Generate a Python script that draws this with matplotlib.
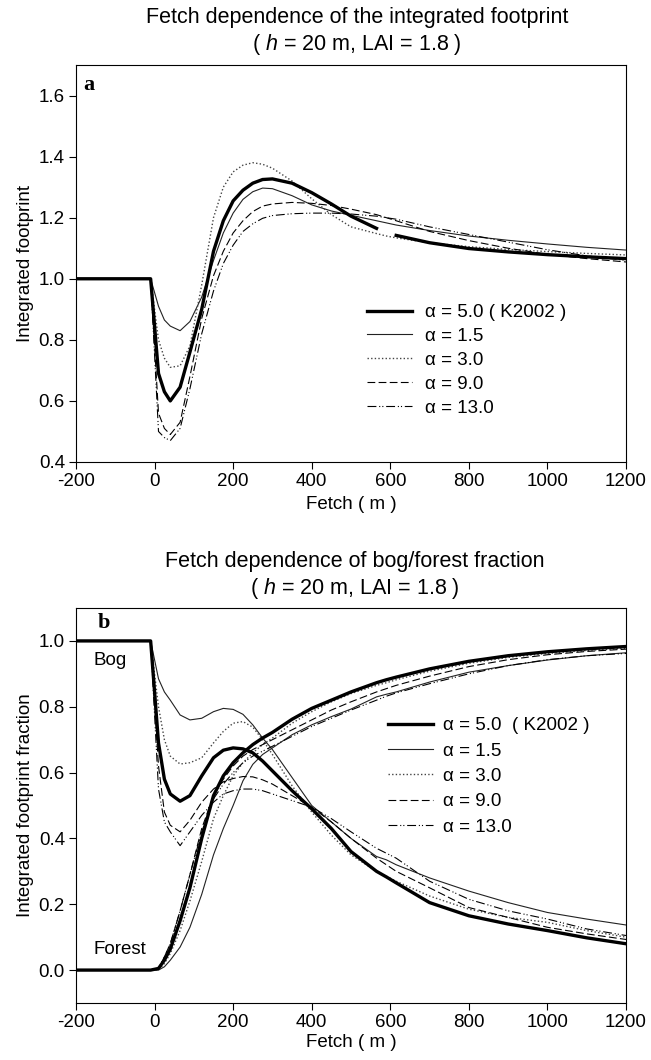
import numpy as np
import matplotlib
matplotlib.use("Agg")
import matplotlib.pyplot as plt

plt.rcParams['font.family'] = ['Liberation Sans', 'DejaVu Sans']
plt.rcParams['mathtext.fontset'] = 'custom'
plt.rcParams['mathtext.it'] = 'Liberation Sans:italic'
plt.rcParams['mathtext.rm'] = 'Liberation Sans'
plt.rcParams['axes.unicode_minus'] = False

nan = np.nan

# fetch grid (m)
fetch = [-200, -10, 10, 25, 40, 65, 90, 120, 150, 175, 200, 225, 250, 275, 300,
         350, 400, 450, 500, 565, 590, 615, 700, 800, 900, 1000, 1100, 1200]

# panel a: integrated footprint
fp_a50 = [1.0, 1.0, 0.69, 0.63, 0.60, 0.645, 0.76, 0.90, 1.09, 1.19, 1.255, 1.29, 1.313, 1.325, 1.327,
          1.313, 1.282, 1.245, 1.205, 1.165, nan, 1.142, 1.118, 1.099, 1.088, 1.079, 1.072, 1.066]
fp_a15 = [1.0, 1.0, 0.91, 0.865, 0.845, 0.83, 0.86, 0.94, 1.06, 1.15, 1.215, 1.26, 1.285, 1.297, 1.295,
          1.272, 1.242, 1.222, 1.208, 1.19, 1.183, 1.176, 1.158, 1.14, 1.126, 1.114, 1.103, 1.094]
fp_a30 = [1.0, 1.0, 0.80, 0.74, 0.71, 0.715, 0.78, 0.98, 1.20, 1.30, 1.35, 1.372, 1.38, 1.375, 1.362,
          1.32, 1.262, 1.21, 1.17, 1.148, 1.14, 1.134, 1.118, 1.105, 1.096, 1.089, 1.083, 1.078]
fp_a90 = [1.0, 1.0, 0.56, 0.51, 0.49, 0.53, 0.68, 0.87, 1.01, 1.09, 1.15, 1.19, 1.22, 1.238, 1.245,
          1.25, 1.247, 1.24, 1.228, 1.21, 1.2, 1.19, 1.155, 1.125, 1.1, 1.08, 1.066, 1.055]
fp_a130 = [1.0, 1.0, 0.50, 0.48, 0.47, 0.51, 0.64, 0.82, 0.96, 1.05, 1.11, 1.155, 1.18, 1.198, 1.207,
           1.213, 1.215, 1.215, 1.212, 1.205, 1.2, 1.195, 1.17, 1.145, 1.12, 1.095, 1.075, 1.06]

# panel b: bog fraction
bog_a50 = [1.0, 1.0, 0.69, 0.58, 0.535, 0.513, 0.53, 0.59, 0.645, 0.668, 0.675, 0.672, 0.66, 0.635, 0.605,
           0.545, 0.49, 0.43, 0.36, 0.30, 0.283, 0.265, 0.205, 0.165, 0.14, 0.12, 0.098, 0.08]
bog_a15 = [1.0, 1.0, 0.885, 0.845, 0.82, 0.775, 0.76, 0.765, 0.785, 0.795, 0.792, 0.777, 0.745, 0.705, 0.67,
           0.585, 0.50, 0.45, 0.40, 0.345, 0.335, 0.32, 0.28, 0.24, 0.205, 0.175, 0.155, 0.137]
bog_a30 = [1.0, 1.0, 0.80, 0.70, 0.65, 0.626, 0.63, 0.645, 0.69, 0.725, 0.75, 0.755, 0.738, 0.70, 0.655,
           0.56, 0.48, 0.41, 0.35, 0.30, 0.285, 0.27, 0.225, 0.185, 0.16, 0.145, 0.12, 0.10]
bog_a90 = [1.0, 1.0, 0.62, 0.48, 0.44, 0.42, 0.455, 0.51, 0.55, 0.572, 0.582, 0.588, 0.587, 0.578, 0.565,
           0.53, 0.495, 0.45, 0.40, 0.34, 0.32, 0.30, 0.25, 0.19, 0.16, 0.13, 0.11, 0.093]
bog_a130 = [1.0, 1.0, 0.55, 0.45, 0.42, 0.378, 0.42, 0.47, 0.51, 0.535, 0.545, 0.55, 0.55, 0.545, 0.535,
            0.515, 0.495, 0.46, 0.42, 0.37, 0.355, 0.34, 0.27, 0.215, 0.18, 0.155, 0.125, 0.105]

# panel b: forest fraction
for_a50 = [0.0, 0.0, 0.005, 0.03, 0.064, 0.15, 0.25, 0.40, 0.53, 0.59, 0.63, 0.66, 0.685, 0.705, 0.722,
           0.762, 0.795, 0.82, 0.845, 0.873, 0.882, 0.89, 0.915, 0.938, 0.955, 0.967, 0.976, 0.983]
for_a15 = [0.0, 0.0, 0.0, 0.01, 0.03, 0.07, 0.13, 0.23, 0.35, 0.43, 0.50, 0.575, 0.625, 0.655, 0.675,
           0.715, 0.745, 0.77, 0.793, 0.83, 0.838, 0.845, 0.875, 0.905, 0.925, 0.942, 0.955, 0.964]
for_a30 = [0.0, 0.0, 0.0, 0.02, 0.05, 0.12, 0.21, 0.33, 0.46, 0.53, 0.59, 0.63, 0.66, 0.685, 0.705,
           0.75, 0.785, 0.815, 0.84, 0.865, 0.873, 0.882, 0.908, 0.932, 0.95, 0.962, 0.971, 0.978]
for_a90 = [0.0, 0.0, 0.005, 0.04, 0.08, 0.18, 0.29, 0.43, 0.53, 0.58, 0.62, 0.65, 0.67, 0.685, 0.70,
           0.73, 0.76, 0.79, 0.815, 0.845, 0.855, 0.865, 0.893, 0.922, 0.943, 0.958, 0.968, 0.975]
for_a130 = [0.0, 0.0, 0.005, 0.04, 0.08, 0.18, 0.29, 0.42, 0.52, 0.565, 0.60, 0.63, 0.65, 0.665, 0.68,
            0.71, 0.74, 0.765, 0.79, 0.82, 0.832, 0.842, 0.87, 0.90, 0.925, 0.943, 0.955, 0.962]

labels_a = ['\u03b1 = 5.0 ( K2002 )', '\u03b1 = 1.5', '\u03b1 = 3.0', '\u03b1 = 9.0', '\u03b1 = 13.0']
labels_b = ['\u03b1 = 5.0  ( K2002 )', '\u03b1 = 1.5', '\u03b1 = 3.0', '\u03b1 = 9.0', '\u03b1 = 13.0']

styles = [
    dict(color='black', lw=2.4, ls='-'),
    dict(color='#222222', lw=0.8, ls='-'),
    dict(color='#444444', lw=1.0, ls=(0, (1, 1.6))),
    dict(color='black', lw=0.8, ls=(0, (7, 3))),
    dict(color='black', lw=0.8, ls=(0, (8, 2.5, 1, 1.8, 1, 2.5))),
]

FS = 13.5

fig = plt.figure(figsize=(6.51, 10.6), dpi=100)
W, H = 651, 1060
ax_a = fig.add_axes([76 / W, 1 - 462 / H, 550 / W, 397 / H])
ax_b = fig.add_axes([76 / W, 1 - 1003 / H, 550 / W, 395 / H])

x = np.array(fetch)

# ---- panel a
series_a = [fp_a50, fp_a15, fp_a30, fp_a90, fp_a130]
order = [1, 2, 3, 4, 0]
lines_a = [None] * 5
for i in order:
    lines_a[i], = ax_a.plot(x, series_a[i], label=labels_a[i], **styles[i])

ax_a.set_xlim(-200, 1200)
ax_a.set_ylim(0.4, 1.7)
ax_a.set_yticks(np.arange(0.4, 1.61, 0.2))
ax_a.set_yticklabels([f'{v:.1f}' for v in np.arange(0.4, 1.61, 0.2)])
ax_a.set_xticks(np.arange(-200, 1201, 200))
ax_a.set_xlabel('Fetch ( m )', fontsize=FS, labelpad=4)
ax_a.set_ylabel('Integrated footprint', fontsize=FS, labelpad=3)
ax_a.text(0.014, 0.95, 'a', transform=ax_a.transAxes, fontsize=16, fontweight='bold',
          family='Liberation Serif', va='center', ha='left')
ax_a.legend(handles=lines_a, loc='upper left', bbox_to_anchor=(0.529, 0.398), frameon=False,
            fontsize=FS, handlelength=2.4, handletextpad=0.7, labelspacing=0.36,
            borderpad=0, borderaxespad=0)

# ---- panel b
series_bog = [bog_a50, bog_a15, bog_a30, bog_a90, bog_a130]
series_for = [for_a50, for_a15, for_a30, for_a90, for_a130]
lines_b = [None] * 5
for i in order:
    lines_b[i], = ax_b.plot(x, series_bog[i], label=labels_b[i], **styles[i])
    ax_b.plot(x, series_for[i], **styles[i])

ax_b.set_xlim(-200, 1200)
ax_b.set_ylim(-0.1, 1.1)
ax_b.set_yticks(np.arange(0.0, 1.01, 0.2))
ax_b.set_yticklabels([f'{v:.1f}' for v in np.arange(0.0, 1.01, 0.2)])
ax_b.set_xticks(np.arange(-200, 1201, 200))
ax_b.set_xlabel('Fetch ( m )', fontsize=FS, labelpad=2)
ax_b.set_ylabel('Integrated footprint fraction', fontsize=FS, labelpad=3)
ax_b.text(0.04, 0.962, 'b', transform=ax_b.transAxes, fontsize=16, fontweight='bold',
          family='Liberation Serif', va='center', ha='left')
ax_b.text(-113, 0.94, 'Bog', fontsize=FS, ha='center', va='center')
ax_b.text(-88, 0.064, 'Forest', fontsize=FS, ha='center', va='center')
ax_b.legend(handles=lines_b, loc='upper left', bbox_to_anchor=(0.567, 0.724), frameon=False,
            fontsize=FS, handlelength=2.4, handletextpad=0.55, labelspacing=0.44,
            borderpad=0, borderaxespad=0)

for ax in (ax_a, ax_b):
    ax.tick_params(direction='out', length=5, width=0.8, labelsize=FS, pad=3,
                   top=False, right=False)
    for s in ax.spines.values():
        s.set_linewidth(0.8)

fig.text(357 / W, 1 - 32 / H, 'Fetch dependence of the integrated footprint\n( $h$ = 20 m, LAI = 1.8 )',
         ha='center', va='center', fontsize=15.5, linespacing=1.2)
fig.text(355 / W, 1 - 576 / H, 'Fetch dependence of bog/forest fraction\n( $h$ = 20 m, LAI = 1.8 )',
         ha='center', va='center', fontsize=15.5, linespacing=1.2)

fig.savefig('out.png', dpi=100)
